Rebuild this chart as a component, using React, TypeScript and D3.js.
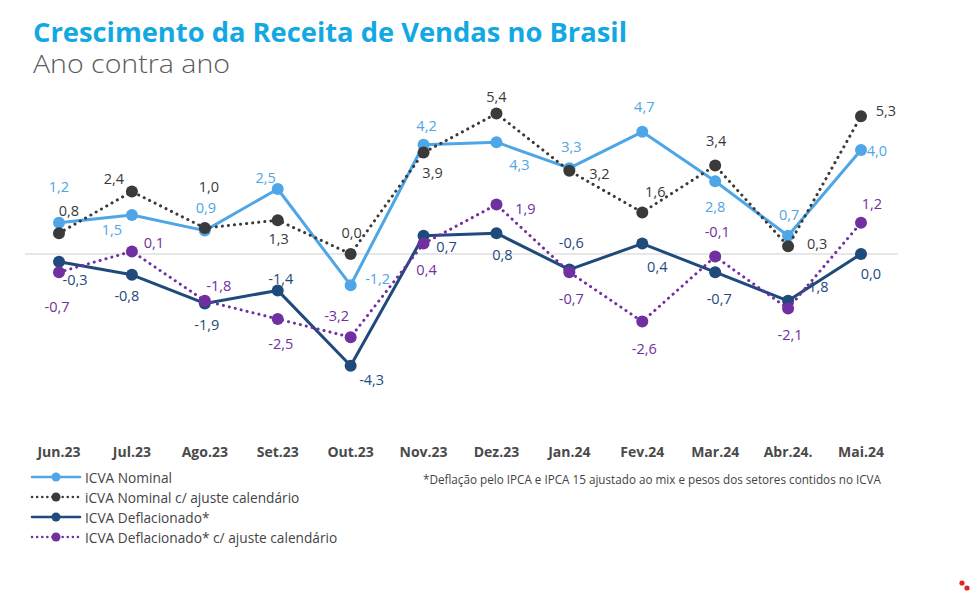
import React from "react";
import * as d3 from "d3";

const months = ["Jun.23", "Jul.23", "Ago.23", "Set.23", "Out.23", "Nov.23", "Dez.23", "Jan.24", "Fev.24", "Mar.24", "Abr.24.", "Mai.24"];

const nominal = [1.2, 1.5, 0.9, 2.5, -1.2, 4.2, 4.3, 3.3, 4.7, 2.8, 0.7, 4.0];
const nominalCal = [0.8, 2.4, 1.0, 1.3, 0.0, 3.9, 5.4, 3.2, 1.6, 3.4, 0.3, 5.3];
const deflated = [-0.3, -0.8, -1.9, -1.4, -4.3, 0.7, 0.8, -0.6, 0.4, -0.7, -1.8, 0.0];
const deflatedCal = [-0.7, 0.1, -1.8, -2.5, -3.2, 0.4, 1.9, -0.7, -2.6, -0.1, -2.1, 1.2];

const seriesNames = [
  "ICVA Nominal",
  "iCVA Nominal c/ ajuste calendário",
  "ICVA Deflacionado*",
  "ICVA Deflacionado* c/ ajuste calendário",
];

// label offsets (layout), per series, per point
const offNominal = [[0, -36], [-20, 14], [1, -23], [-12, -12], [27, -7], [3, -19], [23, 22], [2, -22], [2, -25], [0, 25], [1, -21], [16, 0]];
const offNominalCal = [[10, -23], [-18, -13], [4, -42], [1, 18], [1, -22], [9, 20], [0, -17], [30, 3], [13, -21], [1, -25], [29, -3], [25, -6]];
const offDeflated = [[16, 18], [-5, 21], [2, 21], [3, -12], [21, 14], [23, 11], [6, 21], [2, -27], [15, 23], [4, 26], [28, -14], [10, 19]];
const offDeflatedCal = [[-2, 34], [22, -9], [14, -15], [3, 24], [-14, -22], [3, 26], [29, 4], [2, 26], [2, 27], [2, -25], [2, 26], [11, -19]];

const FONT = "'Open Sans', 'Noto Sans', sans-serif";

export default function App() {
  const W = 971, H = 591;
  const x = d3.scalePoint<string>().domain(months).range([59, 861]);
  const y = d3.scaleLinear().domain([-5, 6]).range([254 + 5 * 26, 254 - 6 * 26]);

  const series = [
    { name: seriesNames[0], data: nominal, off: offNominal, color: "#4ea6e6", dotted: false },
    { name: seriesNames[1], data: nominalCal, off: offNominalCal, color: "#3a3a3a", dotted: true },
    { name: seriesNames[2], data: deflated, off: offDeflated, color: "#1f4a7c", dotted: false },
    { name: seriesNames[3], data: deflatedCal, off: offDeflatedCal, color: "#7030a0", dotted: true },
  ];
  const drawOrder = [0, 1, 2, 3];

  const line = d3
    .line<number>()
    .x((_, i) => x(months[i]) as number)
    .y((d) => y(d));

  const fmt = (v: number) => v.toFixed(1).replace(".", ",");

  return (
    <svg width={W} height={H} style={{ position: "absolute", left: 0, top: 0, background: "#fff" }} fontFamily={FONT}>
      <text x={33} y={42} fontSize={26} fontWeight={700} fill="#12a8e4" textLength={594} lengthAdjust="spacingAndGlyphs">
        Crescimento da Receita de Vendas no Brasil
      </text>
      <text x={33} y={73} fontSize={26} fontWeight={300} fill="#5a5a5a" textLength={197} lengthAdjust="spacingAndGlyphs">
        Ano contra ano
      </text>

      <line x1={25} x2={898} y1={y(0)} y2={y(0)} stroke="#d0d0d0" strokeWidth={1.2} />

      {drawOrder.map((si) => {
        const s = series[si];
        return (
          <g key={s.name}>
            <path
              d={line(s.data) || ""}
              fill="none"
              stroke={s.color}
              strokeWidth={3}
              strokeLinecap="round"
              strokeLinejoin="round"
              strokeDasharray={s.dotted ? "0.1 6" : undefined}
            />
            {s.data.map((v, i) => (
              <circle key={i} cx={x(months[i])} cy={y(v)} r={6} fill={s.color} />
            ))}
          </g>
        );
      })}

      {series.map((s) => (
        <g key={s.name + "l"}>
          {s.data.map((v, i) => (
            <text
              key={i}
              x={(x(months[i]) as number) + s.off[i][0]}
              y={y(v) + s.off[i][1]}
              textAnchor="middle"
              dominantBaseline="central"
              fontSize={14.5}
              fill={s.color}
            >
              {fmt(v)}
            </text>
          ))}
        </g>
      ))}

      {months.map((m) => (
        <text key={m} x={x(m)} y={457} textAnchor="middle" fontSize={14} fontWeight={700} fill="#4a4a4a">
          {m}
        </text>
      ))}

      {series.map((s, i) => {
        const ly = 477 + i * 20;
        return (
          <g key={s.name + "leg"}>
            <line
              x1={32}
              x2={80}
              y1={ly}
              y2={ly}
              stroke={s.color}
              strokeWidth={2.5}
              strokeLinecap="round"
              strokeDasharray={s.dotted ? "0.1 5" : undefined}
            />
            <circle cx={56} cy={ly} r={4.5} fill={s.color} />
            <text x={85} y={ly} dominantBaseline="central" fontSize={13.7} fill="#444">
              {s.name}
            </text>
          </g>
        );
      })}

      <text x={423} y={484} fontSize={11.7} fill="#444">
        *Deflação pelo IPCA e IPCA 15 ajustado ao mix e pesos dos setores contidos no ICVA
      </text>

      <circle cx={962} cy={583} r={2.6} fill="#e32222" />
      <circle cx={967} cy={588} r={2.6} fill="#e32222" />
    </svg>
  );
}
